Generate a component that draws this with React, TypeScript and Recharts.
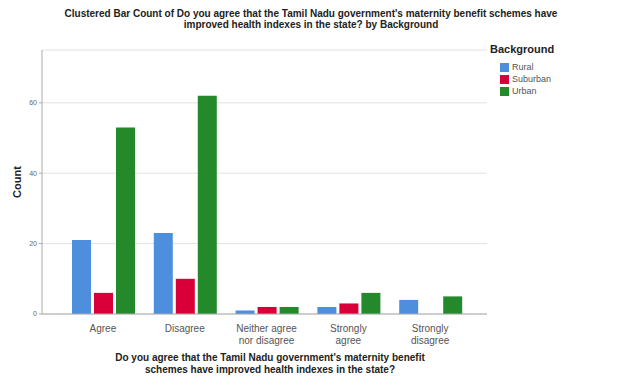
import React from "react";
import { BarChart, Bar, XAxis, YAxis, CartesianGrid } from "recharts";

const categories = [
  "Agree",
  "Disagree",
  "Neither agree\nnor disagree",
  "Strongly\nagree",
  "Strongly\ndisagree",
];
const rural = [21, 23, 1, 2, 4];
const suburban = [6, 10, 2, 3, 0];
const urban = [53, 62, 2, 6, 5];
const yTicks = [0, 20, 40, 60];

const series = [
  { key: "Rural", color: "#4d8fdc" },
  { key: "Suburban", color: "#d9003a" },
  { key: "Urban", color: "#23892a" },
];

const data = categories.map((name, i) => ({
  name,
  Rural: rural[i],
  Suburban: suburban[i],
  Urban: urban[i],
}));

const CategoryTick = (props: any) => {
  const { x, y, payload } = props;
  const lines = String(payload.value).split("\n");
  return (
    <g transform={`translate(${x},${y})`}>
      {lines.map((l: string, i: number) => (
        <text
          key={i}
          x={0}
          y={10 + i * 12}
          textAnchor="middle"
          fill="#555"
          fontSize={10}
          fontFamily="Arial, Liberation Sans, sans-serif"
        >
          {l}
        </text>
      ))}
    </g>
  );
};

const App = () => {
  return (
    <div
      style={{
        position: "absolute",
        left: 0,
        top: 0,
        width: 622,
        height: 385,
        background: "#fff",
        fontFamily: "Arial, Liberation Sans, sans-serif",
      }}
    >
      <div
        style={{
          position: "absolute",
          top: 8,
          left: 0,
          width: 622,
          textAlign: "center",
          fontSize: 10,
          lineHeight: "11px",
          color: "#222",
          fontWeight: "bold",
        }}
      >
        Clustered Bar Count of Do you agree that the Tamil Nadu government's maternity benefit schemes have
        <br />
        improved health indexes in the state? by Background
      </div>
      <BarChart
        width={622}
        height={385}
        data={data}
        margin={{ top: 50, right: 135, bottom: 41, left: 0 }}
        barGap={3}
        barCategoryGap={10}
      >
        <CartesianGrid vertical={false} stroke="#e2e2e2" />
        <XAxis
          dataKey="name"
          height={30}
          tick={<CategoryTick />}
          tickLine={false}
          axisLine={{ stroke: "#aaa" }}
          padding={{ left: 20, right: 16 }}
          interval={0}
        />
        <YAxis
          width={42}
          domain={[0, 75]}
          ticks={yTicks}
          tick={{ fontSize: 7, fill: "#666" }}
          tickSize={3}
          tickLine={{ stroke: "#aaa" }}
          axisLine={{ stroke: "#aaa" }}
          label={{
            value: "Count",
            angle: -90,
            position: "insideLeft",
            offset: 17,
            style: { fontSize: 11, fontWeight: "bold", fill: "#222", textAnchor: "middle" },
          }}
        />
        {series.map((s) => (
          <Bar key={s.key} dataKey={s.key} fill={s.color} isAnimationActive={false} />
        ))}
      </BarChart>
      <div style={{ position: "absolute", left: 490, top: 43, width: 120 }}>
        <div style={{ fontSize: 11, fontWeight: "bold", color: "#222", marginBottom: 6 }}>
          Background
        </div>
        {series.map((s) => (
          <div
            key={s.key}
            style={{ display: "flex", alignItems: "center", height: 12, marginLeft: 10 }}
          >
            <span
              style={{ width: 9, height: 9, background: s.color, display: "inline-block", marginRight: 3 }}
            />
            <span style={{ fontSize: 9, color: "#555" }}>{s.key}</span>
          </div>
        ))}
      </div>
      <div
        style={{
          position: "absolute",
          top: 352,
          left: 0,
          width: 540,
          textAlign: "center",
          fontSize: 10,
          lineHeight: "12px",
          color: "#222",
          fontWeight: "bold",
        }}
      >
        Do you agree that the Tamil Nadu government's maternity benefit
        <br />
        schemes have improved health indexes in the state?
      </div>
    </div>
  );
};

export default App;
